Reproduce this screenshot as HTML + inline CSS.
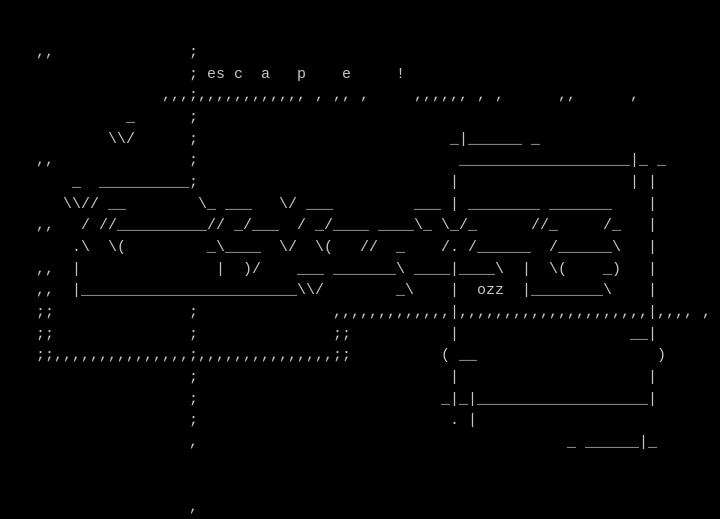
<!DOCTYPE html>
<html><head><meta charset="utf-8"><style>
html,body{margin:0;padding:0;background:#000;}
body{width:720px;height:518px;position:relative;overflow:hidden;}
.r{position:absolute;left:0;height:21.65px;line-height:21.65px;white-space:pre;font-family:"Liberation Mono",monospace;font-size:15px;color:#c4c4c4;}
.r span{position:absolute;top:0;}
</style></head><body>
<div class="r" style="top:42px"><span style="left:36px">,,</span><span style="left:189px">;</span></div>
<div class="r" style="top:63.6px"><span style="left:189px">;</span><span style="left:207px">es</span><span style="left:234px">c</span><span style="left:261px">a</span><span style="left:297px">p</span><span style="left:342px">e</span><span style="left:396px">!</span></div>
<div class="r" style="top:85.3px"><span style="left:162px">,,,;,,,,,,,,,,,,</span><span style="left:315px">,</span><span style="left:333px">,,</span><span style="left:360px">,</span><span style="left:414px">,,,,,,</span><span style="left:477px">,</span><span style="left:495px">,</span><span style="left:558px">,,</span><span style="left:630px">,</span></div>
<div class="r" style="top:107px"><span style="left:126px">_</span><span style="left:189px">;</span></div>
<div class="r" style="top:128.6px"><span style="left:108px">\\/</span><span style="left:189px">;</span><span style="left:450px">_|______</span><span style="left:531px">_</span></div>
<div class="r" style="top:150.3px"><span style="left:36px">,,</span><span style="left:189px">;</span><span style="left:459px">___________________|_ _</span></div>
<div class="r" style="top:172px"><span style="left:72px">_</span><span style="left:99px">__________;</span><span style="left:450px">|</span><span style="left:630px">|</span><span style="left:648px">|</span></div>
<div class="r" style="top:193.6px"><span style="left:63px">\\//</span><span style="left:108px">__</span><span style="left:198px">\_</span><span style="left:225px">___</span><span style="left:279px">\/</span><span style="left:306px">___</span><span style="left:414px">___</span><span style="left:450px">|</span><span style="left:468px">________</span><span style="left:549px">_______</span><span style="left:648px">|</span></div>
<div class="r" style="top:215.3px"><span style="left:36px">,,</span><span style="left:81px">/</span><span style="left:99px">//__________//</span><span style="left:234px">_/___</span><span style="left:297px">/</span><span style="left:315px">_/____</span><span style="left:378px">____\_</span><span style="left:441px">\_/_</span><span style="left:531px">//_</span><span style="left:603px">/_</span><span style="left:648px">|</span></div>
<div class="r" style="top:237px"><span style="left:72px">.\</span><span style="left:108px">\(</span><span style="left:207px">_\____</span><span style="left:279px">\/</span><span style="left:315px">\(</span><span style="left:360px">//</span><span style="left:396px">_</span><span style="left:441px">/.</span><span style="left:468px">/______</span><span style="left:549px">/______\</span><span style="left:648px">|</span></div>
<div class="r" style="top:258.6px"><span style="left:36px">,,</span><span style="left:72px">|</span><span style="left:216px">|</span><span style="left:243px">)/</span><span style="left:297px">___</span><span style="left:333px">_______\</span><span style="left:414px">____|____\</span><span style="left:522px">|</span><span style="left:549px">\(</span><span style="left:603px">_)</span><span style="left:648px">|</span></div>
<div class="r" style="top:280.3px"><span style="left:36px">,,</span><span style="left:72px">|________________________\\/</span><span style="left:396px">_\</span><span style="left:450px">|</span><span style="left:477px">ozz</span><span style="left:522px">|________\</span><span style="left:648px">|</span></div>
<div class="r" style="top:302px"><span style="left:36px">;;</span><span style="left:189px">;</span><span style="left:333px">,,,,,,,,,,,,,|,,,,,,,,,,,,,,,,,,,,,|,,,,</span><span style="left:702px">,</span></div>
<div class="r" style="top:323.6px"><span style="left:36px">;;</span><span style="left:189px">;</span><span style="left:333px">;;</span><span style="left:450px">|</span><span style="left:630px">__|</span></div>
<div class="r" style="top:345.3px"><span style="left:36px">;;,,,,,,,,,,,,,,,;,,,,,,,,,,,,,,,;;</span><span style="left:441px">(</span><span style="left:459px">__</span><span style="left:657px">)</span></div>
<div class="r" style="top:367px"><span style="left:189px">;</span><span style="left:450px">|</span><span style="left:648px">|</span></div>
<div class="r" style="top:388.6px"><span style="left:189px">;</span><span style="left:441px">_|_|___________________|</span></div>
<div class="r" style="top:410.3px"><span style="left:189px">;</span><span style="left:450px">. |</span></div>
<div class="r" style="top:432px"><span style="left:189px">,</span><span style="left:567px">_ ______|_</span></div>
<div class="r" style="top:497px"><span style="left:189px">,</span></div>
</body></html>
